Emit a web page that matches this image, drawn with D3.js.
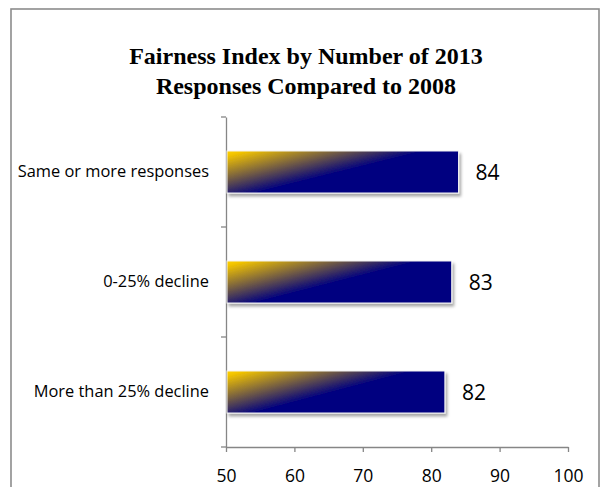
<!DOCTYPE html>
<html>
<head>
<meta charset="utf-8">
<script src="https://cdn.jsdelivr.net/npm/d3@7"></script>
<style>
  html, body { margin: 0; padding: 0; background: #fff; }
  svg { display: block; }
</style>
</head>
<body>
<script>
// Fairness index per response-change group
const categories = ["Same or more responses", "0-25% decline", "More than 25% decline"];
const values = [84, 83, 82];
const xTicks = [50, 60, 70, 80, 90, 100];
const titleLines = ["Fairness Index by Number of 2013", "Responses Compared to 2008"];

const W = 600, H = 487;
const svg = d3.select("body").append("svg").attr("width", W).attr("height", H);

const defs = svg.append("defs");
const grad = defs.append("linearGradient")
  .attr("id", "barFill")
  .attr("x1", 0).attr("y1", 0).attr("x2", 0.56).attr("y2", 0.41);
grad.append("stop").attr("offset", 0).attr("stop-color", "#ffd200");
grad.append("stop").attr("offset", 0.1).attr("stop-color", "#f2c300");
grad.append("stop").attr("offset", 1).attr("stop-color", "#000080");

const shadow = defs.append("filter").attr("id", "barShadow")
  .attr("x", "-10%").attr("y", "-20%").attr("width", "130%").attr("height", "160%");
shadow.append("feDropShadow")
  .attr("dx", 2).attr("dy", 3).attr("stdDeviation", 1.6)
  .attr("flood-color", "#000").attr("flood-opacity", 0.35);

// chart frame
svg.append("rect").attr("x", 0).attr("y", 0).attr("width", W).attr("height", H).attr("fill", "#fff");
svg.append("rect")
  .attr("x", 11).attr("y", 9).attr("width", 588).attr("height", 500)
  .attr("fill", "#fff").attr("stroke", "#8c8c8c").attr("stroke-width", 1.6);

// title
svg.append("g").selectAll("text").data(titleLines).join("text")
  .attr("x", 306)
  .attr("y", (d, i) => 64 + i * 30)
  .attr("text-anchor", "middle")
  .attr("font-family", "'Liberation Serif', 'DejaVu Serif', serif")
  .attr("font-weight", "bold")
  .attr("font-size", 24)
  .attr("fill", "#000")
  .text(d => d);

const x = d3.scaleLinear().domain([50, 100]).range([226, 568]);
const y = d3.scaleBand().domain(categories).range([117, 447])
  .paddingInner(0.618).paddingOuter(0.309);

const axisColor = "#868686";

// x axis
const gx = svg.append("g").attr("transform", "translate(0,447)")
  .call(d3.axisBottom(x).tickValues(xTicks).tickSizeInner(5).tickSizeOuter(0).tickPadding(18));
gx.select(".domain").attr("stroke", axisColor).attr("stroke-width", 1.3);
gx.selectAll(".tick line").attr("stroke", axisColor).attr("stroke-width", 1.3);
gx.selectAll(".tick text")
  .attr("font-family", "'Open Sans', sans-serif")
  .attr("font-size", 17.5)
  .attr("fill", "#000");

// y axis with labels at band centres
const gy = svg.append("g").attr("transform", "translate(226,0)")
  .call(d3.axisLeft(y).tickSizeInner(0).tickSizeOuter(0).tickPadding(17));
gy.select(".domain").attr("stroke", axisColor).attr("stroke-width", 1.3);
gy.selectAll(".tick text")
  .attr("font-family", "'Open Sans', sans-serif")
  .attr("font-size", 16.4)
  .attr("fill", "#000");

// category boundary ticks
const bounds = d3.range(categories.length + 1).map(i => y.range()[0] + i * y.step());
svg.append("g").selectAll("line").data(bounds).join("line")
  .attr("x1", 221).attr("x2", 226)
  .attr("y1", d => d).attr("y2", d => d)
  .attr("stroke", axisColor).attr("stroke-width", 1.3);

// bars
const rows = categories.map((c, i) => ({ c, v: values[i] }));
svg.append("g").selectAll("rect").data(rows).join("rect")
  .attr("x", x(50) + 1)
  .attr("y", d => y(d.c))
  .attr("width", d => x(d.v) - x(50) - 1)
  .attr("height", y.bandwidth())
  .attr("fill", "url(#barFill)")
  .attr("stroke", "#f4f4f4")
  .attr("stroke-width", 1)
  .attr("filter", "url(#barShadow)");

// value labels
svg.append("g").selectAll("text").data(rows).join("text")
  .attr("x", d => x(d.v) + 17)
  .attr("y", d => y(d.c) + y.bandwidth() / 2)
  .attr("dy", "0.36em")
  .attr("font-family", "'Open Sans', sans-serif")
  .attr("font-size", 21)
  .attr("fill", "#000")
  .text(d => d.v);
</script>
</body>
</html>
